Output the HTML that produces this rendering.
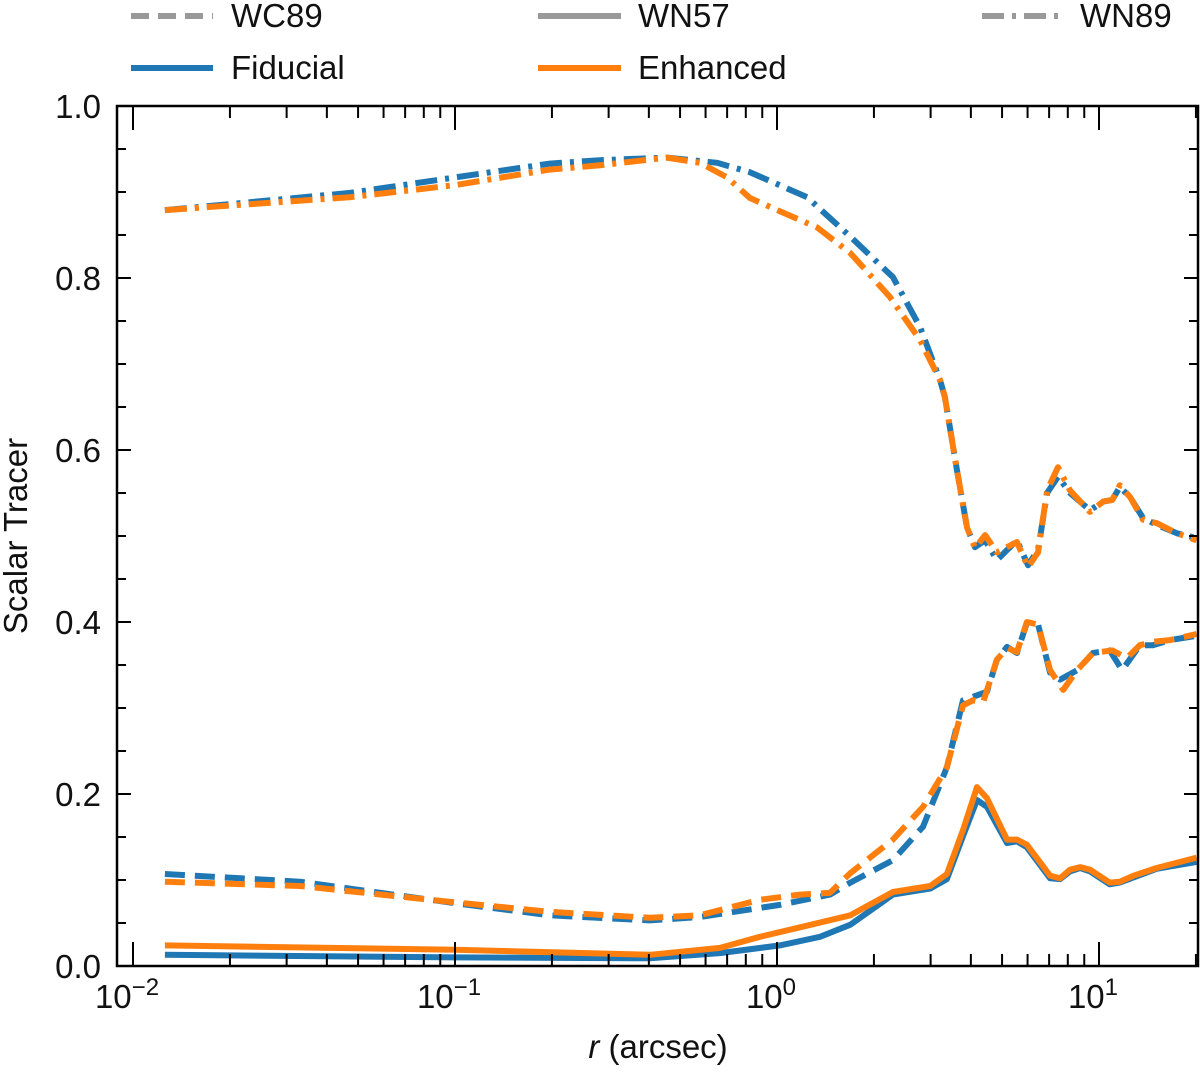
<!DOCTYPE html>
<html><head><meta charset="utf-8"><style>
html,body{margin:0;padding:0;background:#fff;}
svg text{font-family:"Liberation Sans","DejaVu Sans",sans-serif;fill:#111;}
</style></head><body>
<svg id="chart" width="1200" height="1068" viewBox="0 0 1200 1068" xmlns="http://www.w3.org/2000/svg">
<g id="legend">
 <g><line x1="131" y1="16" x2="213" y2="16" stroke="#999" stroke-width="6" stroke-dasharray="18,9"/><text x="231" y="27" font-size="33">WC89</text></g>
 <g><line x1="538" y1="16" x2="621" y2="16" stroke="#999" stroke-width="6"/><text x="638" y="27" font-size="33">WN57</text></g>
 <g><line x1="982" y1="16" x2="1062" y2="16" stroke="#999" stroke-width="6" stroke-dasharray="22,8,4,8"/><text x="1080" y="27" font-size="33">WN89</text></g>
 <g><line x1="131" y1="68" x2="213" y2="68" stroke="#1f77b4" stroke-width="6"/><text x="231" y="79" font-size="33">Fiducial</text></g>
 <g><line x1="538" y1="68" x2="621" y2="68" stroke="#ff7f0e" stroke-width="6"/><text x="638" y="79" font-size="33">Enhanced</text></g>
</g>
<g id="series"></g>
<g id="axes"></g>
<text x="27" y="536" font-size="33" text-anchor="middle" transform="rotate(-90 27 536)">Scalar Tracer</text>
<text x="658" y="1058" font-size="33" text-anchor="middle"><tspan font-style="italic">r</tspan> (arcsec)</text>
</svg>
<script>
// ---- data ----
const rWN89Fid = [0.01256,0.0472,0.1,0.197,0.282,0.455,0.651,0.824,1.24,1.69,2.29,2.78,3.21,3.32,3.62,3.89,4.12,4.43,4.82,5.56,6.02,6.47,6.90,7.46,8.13,9.38,10.3,11.0,11.6,12.5,13.7,15.1,17.5,19.9];
const wn89Fid = [0.879,0.899,0.917,0.933,0.937,0.940,0.934,0.923,0.894,0.848,0.801,0.743,0.681,0.662,0.577,0.510,0.487,0.495,0.472,0.495,0.466,0.484,0.550,0.569,0.550,0.530,0.540,0.542,0.557,0.545,0.521,0.513,0.503,0.498];
const rWN89Enh = [0.01256,0.0472,0.1,0.197,0.282,0.455,0.576,0.700,0.824,1.12,1.33,1.69,2.24,2.78,3.21,3.32,3.62,3.89,4.12,4.43,4.82,5.56,6.02,6.47,6.90,7.46,8.13,9.38,10.3,11.0,11.6,12.5,13.7,15.1,17.5,20.1];
const wn89Enh = [0.879,0.894,0.908,0.926,0.931,0.940,0.934,0.917,0.893,0.871,0.859,0.829,0.778,0.728,0.681,0.662,0.577,0.510,0.486,0.501,0.481,0.493,0.464,0.481,0.553,0.580,0.553,0.528,0.540,0.542,0.559,0.545,0.519,0.515,0.503,0.495];
const rWC89Fid = [0.01256,0.033,0.1,0.197,0.403,0.576,1.02,1.46,1.69,2.29,2.84,3.37,3.78,4.06,4.49,4.82,5.18,5.56,5.97,6.47,7.05,7.57,8.55,9.58,10.8,11.8,13.4,14.7,16.6,20.1];
const wc89Fid = [0.107,0.098,0.073,0.059,0.053,0.057,0.071,0.083,0.097,0.123,0.162,0.231,0.309,0.313,0.319,0.356,0.371,0.364,0.399,0.397,0.341,0.333,0.344,0.364,0.367,0.344,0.373,0.373,0.379,0.384];
const rWC89Enh = [0.01256,0.033,0.1,0.197,0.403,0.576,0.885,1.18,1.46,1.69,2.29,2.84,3.37,3.78,4.06,4.36,4.82,5.18,5.56,5.97,6.47,7.05,7.74,8.55,9.58,11.0,12.2,13.4,14.7,16.6,20.1];
const wc89Enh = [0.098,0.093,0.074,0.063,0.056,0.059,0.077,0.083,0.085,0.108,0.147,0.185,0.231,0.303,0.309,0.306,0.356,0.370,0.365,0.400,0.397,0.344,0.321,0.344,0.364,0.367,0.358,0.373,0.377,0.379,0.386];
const rWN57Fid = [0.01256,0.1,0.403,0.665,1.02,1.36,1.69,2.29,2.99,3.37,3.78,4.18,4.49,5.18,5.56,5.97,7.05,7.57,8.13,8.74,9.38,10.8,11.6,12.8,15.1,20.1];
const wn57Fid = [0.013,0.010,0.009,0.015,0.024,0.034,0.048,0.083,0.090,0.101,0.151,0.193,0.185,0.143,0.145,0.138,0.102,0.101,0.110,0.114,0.110,0.095,0.097,0.103,0.113,0.121];
const rWN57Enh = [0.01256,0.1,0.403,0.665,0.885,1.18,1.69,2.29,2.99,3.37,3.78,4.18,4.49,5.18,5.56,5.97,7.05,7.57,8.13,8.74,9.38,10.8,11.6,12.8,15.1,20.1];
const wn57Enh = [0.024,0.019,0.013,0.021,0.034,0.045,0.059,0.086,0.093,0.107,0.158,0.208,0.195,0.147,0.147,0.141,0.105,0.102,0.112,0.115,0.112,0.097,0.098,0.105,0.114,0.126];
const yTickLabels = ["0.0","0.2","0.4","0.6","0.8","1.0"];
const xTickExps = ["−2","−1","0","1"];

// ---- axes ----
const L=117,R=1198,T=106,B=966;
const X0=133, DEC=322;
function xs(r){return X0+(Math.log10(r)+2)*DEC;}
function ys(v){return B-(B-T)*v;}
const NS="http://www.w3.org/2000/svg";
function mk(tag,attrs,parent){const e=document.createElementNS(NS,tag);for(const k in attrs)e.setAttribute(k,attrs[k]);parent.appendChild(e);return e;}
const series=document.getElementById('series');
const axes=document.getElementById('axes');
function draw(rs,vs,color,dash,name){
  const d=rs.map((r,i)=>(i?'L':'M')+xs(r).toFixed(1)+','+ys(vs[i]).toFixed(1)).join(' ');
  const p=mk('path',{d:d,fill:'none',stroke:color,'stroke-width':6,'stroke-linejoin':'round'},series);
  if(dash)p.setAttribute('stroke-dasharray',dash);
  
  
}
const BLUE='#1f77b4',OR='#ff7f0e';
draw(rWN89Fid,wn89Fid,BLUE,'22,8,4,8','line-wn89-fiducial');
draw(rWN89Enh,wn89Enh,OR,'22,8,4,8','line-wn89-enhanced');
draw(rWC89Fid,wc89Fid,BLUE,'20,10','line-wc89-fiducial');
draw(rWC89Enh,wc89Enh,OR,'20,10','line-wc89-enhanced');
draw(rWN57Fid,wn57Fid,BLUE,null,'line-wn57-fiducial');
draw(rWN57Enh,wn57Enh,OR,null,'line-wn57-enhanced');

const frame=mk('rect',{x:L,y:T,width:R-L,height:B-T,fill:'none',stroke:'#000','stroke-width':2.5},axes);


// y ticks
for(let i=0;i<=20;i++){
  const v=i*0.05, y=ys(v), major=(i%4===0), len=major?14:9;
  mk('line',{x1:L,y1:y,x2:L+len,y2:y,stroke:'#000','stroke-width':2},axes);
  mk('line',{x1:R,y1:y,x2:R-len,y2:y,stroke:'#000','stroke-width':2},axes);
  if(major){
    const t=mk('text',{x:101,y:y+12,'font-size':33,'text-anchor':'end'},axes);
    t.textContent=yTickLabels[i/4];
    
    
  }
}
// x ticks
for(let e=-2;e<=1;e++){
  for(let m=1;m<=9;m++){
    const r=m*Math.pow(10,e); if(r>20.1) break;
    const x=xs(r); if(x<L) continue;
    const len=(m===1)?24:12;
    mk('line',{x1:x,y1:B,x2:x,y2:B-len,stroke:'#000','stroke-width':2},axes);
    mk('line',{x1:x,y1:T,x2:x,y2:T+len,stroke:'#000','stroke-width':2},axes);
  }
  const t=mk('text',{x:xs(Math.pow(10,e))-6,y:1008,'font-size':33,'text-anchor':'middle'},axes);
  t.textContent='10';
  const s=mk('tspan',{dy:-13,'font-size':24},t);
  s.textContent=xTickExps[e+2];
  
  
}
</script>
</body></html>
